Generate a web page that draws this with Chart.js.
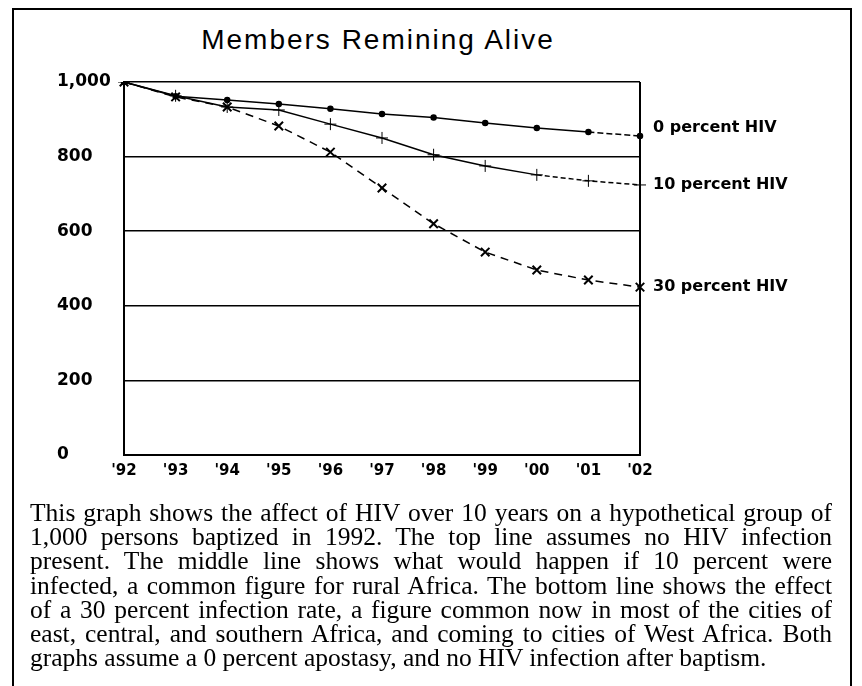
<!DOCTYPE html>
<html>
<head>
<meta charset="utf-8">
<script src="https://cdn.jsdelivr.net/npm/chart.js@4"></script>
<style>
  body { margin: 0; background: #fff; width: 862px; height: 686px; overflow: hidden; position: relative; }
  #frame { position: absolute; left: 12px; top: 8px; width: 836px; height: 700px; border: 2px solid #000; }
  #title { position: absolute; left: 0; top: 26px; width: 756px; text-align: center;
    font: 28px/28px "Liberation Sans", Arial, sans-serif; letter-spacing: 2px; color: #000; }
  #grafica { position: absolute; left: 0; top: 0; }
  #caption { position: absolute; left: 30px; top: 501px; width: 802px;
    font: 25.5px/24.2px "Liberation Serif", "Times New Roman", serif; color: #000; }
  #caption div { text-align: justify; text-align-last: justify; white-space: nowrap; }
  #caption div.last { text-align-last: left; }
</style>
</head>
<body>
<div id="frame"></div>
<div id="title">Members Remining Alive</div>
<canvas id="grafica" width="862" height="500"></canvas>
<div id="caption">
  <div>This graph shows the affect of HIV over 10 years on a hypothetical group of</div>
  <div>1,000 persons baptized in 1992. The top line assumes no HIV infection</div>
  <div>present. The middle line shows what would happen if 10 percent were</div>
  <div>infected, a common figure for rural Africa. The bottom line shows the effect</div>
  <div>of a 30 percent infection rate, a figure common now in most of the cities of</div>
  <div>east, central, and southern Africa, and coming to cities of West Africa. Both</div>
  <div class="last">graphs assume a 0 percent apostasy, and no HIV infection after baptism.</div>
</div>
<script>
const years = ["'92", "'93", "'94", "'95", "'96", "'97", "'98", "'99", "'00", "'01", "'02"];
const hiv0 = [1000, 962, 952, 941, 928, 914, 905, 890, 877, 866, 855];
const hiv10 = [1000, 963, 933, 925, 887, 850, 805, 775, 751, 735, 724];
const hiv30 = [1000, 960, 933, 882, 812, 716, 620, 544, 496, 469, 450];
const seriesNames = ["0 percent HIV", "10 percent HIV", "30 percent HIV"];
const yTicks = [0, 200, 400, 600, 800, 1000];

// etiquetas al final de cada linea
const endLabels = {
  id: 'endLabels',
  afterDatasetsDraw(chart) {
    const ctx = chart.ctx;
    const nudge = [-8, 0, 0];
    ctx.save();
    ctx.font = 'bold 16px "DejaVu Sans"';
    ctx.fillStyle = '#000';
    ctx.textBaseline = 'middle';
    chart.data.datasets.forEach((ds, i) => {
      const pts = chart.getDatasetMeta(i).data;
      const last = pts[pts.length - 1];
      ctx.fillText(ds.label, chart.chartArea.right + 13, last.y + nudge[i]);
    });
    // borde derecho del area
    ctx.strokeStyle = '#000';
    ctx.lineWidth = 2;
    ctx.beginPath();
    ctx.moveTo(chart.chartArea.right, chart.chartArea.top);
    ctx.lineTo(chart.chartArea.right, chart.chartArea.bottom);
    ctx.stroke();
    ctx.restore();
  }
};

function dashFrom(idx, dash) {
  return { borderDash: c => (c.p0DataIndex >= idx ? dash : undefined) };
}

new Chart(document.getElementById('grafica'), {
  type: 'line',
  data: {
    labels: years,
    datasets: [{
      label: seriesNames[0],
      data: hiv0,
      borderColor: '#000',
      backgroundColor: '#000',
      borderWidth: 1.5,
      pointStyle: 'circle',
      pointRadius: 2.5,
      segment: dashFrom(9, [6, 3])
    }, {
      label: seriesNames[1],
      data: hiv10,
      borderColor: '#000',
      backgroundColor: '#000',
      borderWidth: 1.5,
      pointStyle: 'cross',
      pointRadius: 6,
      pointBorderWidth: 1,
      segment: dashFrom(8, [5, 3])
    }, {
      label: seriesNames[2],
      data: hiv30,
      borderColor: '#000',
      backgroundColor: '#000',
      borderWidth: 1.5,
      borderDash: [8, 6],
      pointStyle: 'crossRot',
      pointRadius: 6,
      pointBorderWidth: 2
    }]
  },
  options: {
    responsive: false,
    animation: false,
    layout: { padding: { left: 57, right: 222, top: 82, bottom: 15 } },
    plugins: {
      legend: { display: false },
      tooltip: { enabled: false }
    },
    scales: {
      x: {
        grid: { display: false, drawTicks: false },
        border: { display: true, color: '#000', width: 2 },
        ticks: { color: '#000', padding: 7, maxRotation: 0, autoSkip: false,
          font: { family: 'DejaVu Sans', size: 15, weight: 'bold' } },
        afterFit: s => { s.height = 30; }
      },
      y: {
        min: 0,
        max: 1000,
        afterBuildTicks: s => { s.ticks = yTicks.map(v => ({ value: v })); },
        grid: { color: '#000', lineWidth: 1.5, drawTicks: false },
        border: { display: true, color: '#000', width: 2 },
        ticks: { color: '#000', crossAlign: 'far',
          font: { family: 'DejaVu Sans', size: 17, weight: 'bold' },
          callback: v => v.toLocaleString('en-US') },
        afterFit: s => { s.width = 67; }
      }
    }
  },
  plugins: [endLabels]
});
</script>
</body>
</html>
